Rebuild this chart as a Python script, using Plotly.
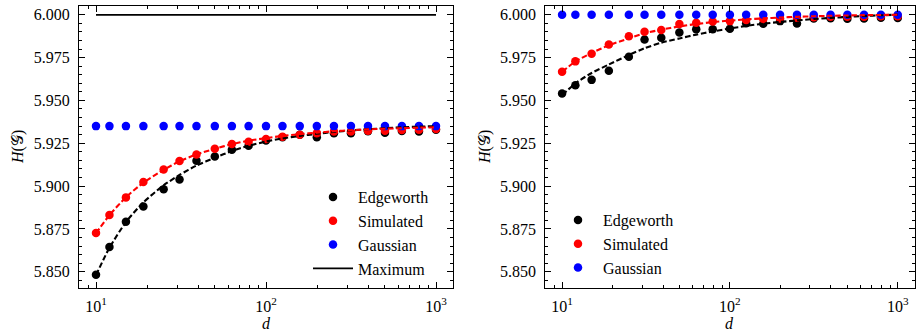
import plotly.graph_objects as go

# ---------------- data ----------------
d = [10, 12, 15, 19, 25, 31, 39, 50, 63, 79, 100, 125, 158, 199, 251, 316, 398, 501, 630, 794, 1000]

# left panel
left_edgeworth = [5.8482, 5.8644, 5.8792, 5.8881, 5.8981, 5.9039, 5.9148, 5.9173, 5.9212, 5.9235, 5.9266,
                  5.9285, 5.9300, 5.9285, 5.9308, 5.9308, 5.9320, 5.9312, 5.9322, 5.9319, 5.9329]
left_simulated = [5.8726, 5.8831, 5.8934, 5.9024, 5.9097, 5.9146, 5.9185, 5.9218, 5.9246, 5.9259, 5.9275,
                  5.9288, 5.9300, 5.9308, 5.9318, 5.9319, 5.9323, 5.9323, 5.9327, 5.9329, 5.9333]
left_gaussian = [5.935] * 21
left_maximum = [6.0] * 21
left_edgeworth_fit = [5.8480, 5.8640, 5.8790, 5.8905, 5.9005, 5.9065, 5.9120, 5.9165, 5.9205, 5.9235, 5.9260,
                      5.9278, 5.9293, 5.9305, 5.9316, 5.9325, 5.9332, 5.9338, 5.9343, 5.9347, 5.9350]
left_simulated_fit = [5.8725, 5.8830, 5.8935, 5.9020, 5.9095, 5.9145, 5.9185, 5.9218, 5.9245, 5.9265, 5.9280,
                      5.9293, 5.9303, 5.9312, 5.9320, 5.9326, 5.9331, 5.9335, 5.9338, 5.9341, 5.9343]

# right panel
right_edgeworth = [5.9541, 5.9589, 5.9620, 5.9673, 5.9755, 5.9856, 5.9866, 5.9897, 5.9916, 5.9916, 5.9918,
                   5.9950, 5.9948, 5.9963, 5.9949, 5.9979, 5.9980, 5.9977, 5.9978, 5.9982, 5.9981]
right_simulated = [5.9667, 5.9728, 5.9772, 5.9827, 5.9874, 5.9901, 5.9911, 5.9946, 5.9953, 5.9961, 5.9963,
                   5.9969, 5.9975, 5.9978, 5.9983, 5.9985, 5.9988, 5.9989, 5.9989, 5.9991, 5.9992]
right_gaussian = [6.0] * 21
right_edgeworth_fit = [5.9530, 5.9600, 5.9660, 5.9710, 5.9765, 5.9805, 5.9837, 5.9862, 5.9884, 5.9903, 5.9920,
                       5.9935, 5.9948, 5.9958, 5.9967, 5.9975, 5.9982, 5.9988, 5.9993, 5.9997, 6.0001]
right_simulated_fit = [5.9667, 5.9727, 5.9777, 5.9822, 5.9862, 5.9892, 5.9913, 5.9932, 5.9946, 5.9957, 5.9966,
                       5.9973, 5.9979, 5.9984, 5.9988, 5.9991, 5.9994, 5.9996, 5.9998, 5.9999, 6.0000]

y_ticks = [5.850, 5.875, 5.900, 5.925, 5.950, 5.975, 6.000]
x_ticks = [10, 100, 1000]
x_ticktext = ["10<sup>1</sup>", "10<sup>2</sup>", "10<sup>3</sup>"]

# ---------------- style ----------------
FONT = "Liberation Serif"
FS = 16
LFS = 16
MS = 8.5
BLACK, RED, BLUE = "#000000", "#ff0000", "#0000ff"
DASH = "5.5px,2.6px"

fig = go.Figure()


def add_panel(xa, ya, legend, edg, sim, gau, edg_fit, sim_fit, maximum=None):
    fig.add_trace(go.Scatter(x=d, y=edg, mode="markers", name="Edgeworth",
                             marker=dict(color=BLACK, size=MS), xaxis=xa, yaxis=ya, legend=legend))
    fig.add_trace(go.Scatter(x=d, y=sim, mode="markers", name="Simulated",
                             marker=dict(color=RED, size=MS), xaxis=xa, yaxis=ya, legend=legend))
    fig.add_trace(go.Scatter(x=d, y=gau, mode="markers", name="Gaussian",
                             marker=dict(color=BLUE, size=MS), xaxis=xa, yaxis=ya, legend=legend))
    if maximum is not None:
        fig.add_trace(go.Scatter(x=d, y=maximum, mode="lines", name="Maximum",
                                 line=dict(color=BLACK, width=1.7), xaxis=xa, yaxis=ya, legend=legend))
    fig.add_trace(go.Scatter(x=d, y=edg_fit, mode="lines", showlegend=False,
                             line=dict(color=BLACK, width=2.1, dash=DASH, shape="spline", smoothing=0.6),
                             xaxis=xa, yaxis=ya))
    fig.add_trace(go.Scatter(x=d, y=sim_fit, mode="lines", showlegend=False,
                             line=dict(color=RED, width=2.1, dash=DASH, shape="spline", smoothing=0.6),
                             xaxis=xa, yaxis=ya))


add_panel("x", "y", "legend", left_edgeworth, left_simulated, left_gaussian,
          left_edgeworth_fit, left_simulated_fit, left_maximum)
add_panel("x2", "y2", "legend2", right_edgeworth, right_simulated, right_gaussian,
          right_edgeworth_fit, right_simulated_fit)

W, H = 916, 331
xdom1 = [79 / W, 453 / W]
xdom2 = [545.3 / W, 914.5 / W]
ydom = [1 - 288 / H, 1 - 5.7 / H]

common_x = dict(type="log", range=[0.9, 3.1], tickvals=x_ticks, ticktext=x_ticktext,
                ticks="inside", ticklen=6, tickwidth=1, tickcolor=BLACK,
                showline=True, linecolor=BLACK, linewidth=1, mirror="allticks",
                showgrid=False, zeroline=False, ticklabelstandoff=4,
                minor=dict(ticks="inside", ticklen=3, tickwidth=0.8, tickcolor=BLACK, dtick="D1", showgrid=False),
                tickfont=dict(family=FONT, size=FS, color=BLACK), automargin=False)
common_y = dict(range=[5.8405, 6.0053], tickvals=y_ticks, tickformat=".3f",
                ticks="inside", ticklen=6, tickwidth=1, tickcolor=BLACK,
                showline=True, linecolor=BLACK, linewidth=1, mirror="allticks",
                showgrid=False, zeroline=False, ticklabelstandoff=5,
                minor=dict(ticks="inside", ticklen=3, tickwidth=0.8, tickcolor=BLACK, dtick=0.005, showgrid=False),
                tickfont=dict(family=FONT, size=FS, color=BLACK), automargin=False)

legend_common = dict(font=dict(family=FONT, size=LFS, color=BLACK), bgcolor="rgba(0,0,0,0)",
                     borderwidth=0, itemwidth=40, tracegroupgap=0)

fig.update_layout(
    width=W, height=H,
    margin=dict(l=0, r=0, t=0, b=0),
    paper_bgcolor="white", plot_bgcolor="white",
    xaxis=dict(domain=xdom1, anchor="y", **common_x),
    yaxis=dict(domain=ydom, anchor="x", **common_y),
    xaxis2=dict(domain=xdom2, anchor="y2", **common_x),
    yaxis2=dict(domain=ydom, anchor="x2", **common_y),
    legend=dict(x=308 / W, y=1 - 180 / H, xanchor="left", yanchor="top", **legend_common),
    legend2=dict(x=553 / W, y=1 - 203 / H, xanchor="left", yanchor="top", **legend_common),
    showlegend=True,
)

annots = [
    dict(text="<i>d</i>", x=(xdom1[0] + xdom1[1]) / 2, y=1 - 323 / H),
    dict(text="<i>d</i>", x=(xdom2[0] + xdom2[1]) / 2, y=1 - 323 / H),
    dict(text="<i>H</i>(𝒢)", x=18 / W, y=1 - 147 / H, textangle=-90),
    dict(text="<i>H</i>(𝒢)", x=485 / W, y=1 - 147 / H, textangle=-90),
]
for a in annots:
    fig.add_annotation(xref="paper", yref="paper", showarrow=False,
                       xanchor="center", yanchor="middle",
                       font=dict(family=FONT, size=FS, color=BLACK), **a)

fig.write_html("out.html")
